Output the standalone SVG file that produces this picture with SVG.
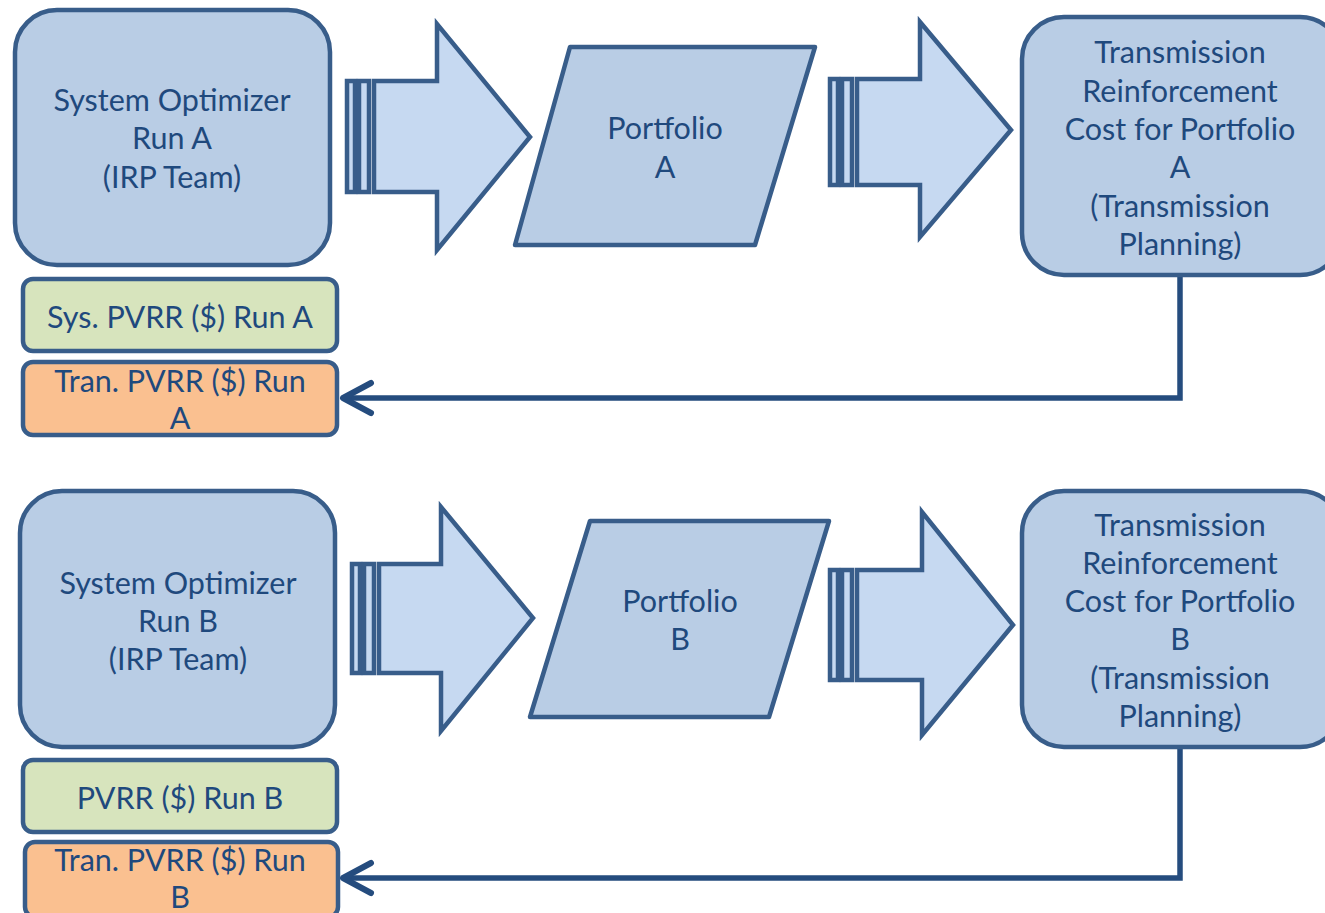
<svg xmlns="http://www.w3.org/2000/svg" width="1325" height="913" viewBox="0 0 1325 913">
<defs>
<style>
.node{fill:#b9cde5;stroke:#385d8a;stroke-width:4.5}
.green{fill:#d7e4bd;stroke:#385d8a;stroke-width:4.5}
.orange{fill:#fac090;stroke:#385d8a;stroke-width:4.5}
.arr{fill:#c6d9f1;stroke:#385d8a;stroke-width:4.5;stroke-linejoin:miter}
.conn{fill:none;stroke:#254c7e;stroke-width:5.5}
text{font-family:Lato,"Open Sans","Liberation Sans",sans-serif;font-size:30.5px;fill:#1f497d;text-anchor:middle}
</style>
<marker id="head" markerUnits="userSpaceOnUse" viewBox="-34 -20 40 40" refX="0" refY="0" markerWidth="40" markerHeight="40" orient="auto" overflow="visible">
<path d="M -28 -15 L 0 0 L -28 15" fill="none" stroke="#254c7e" stroke-width="6" stroke-linecap="round" stroke-linejoin="round"/>
</marker>
</defs>
<rect width="1325" height="913" fill="#ffffff"/>

<g id="connectors">
<path class="conn" d="M 1180 276 L 1180 398 L 343 398" marker-end="url(#head)"/>
<path class="conn" d="M 1180 748 L 1180 878 L 343 878" marker-end="url(#head)"/>
</g>

<g id="arrow1">
<rect class="arr" x="347" y="81" width="8" height="111"/>
<rect class="arr" x="359" y="81" width="10" height="111"/>
<path class="arr" d="M 374 81 L 437 81 L 437 24 L 530 137 L 437 250 L 437 192 L 374 192 Z"/>
</g>
<g id="arrow2">
<rect class="arr" x="830" y="79" width="8" height="106"/>
<rect class="arr" x="842" y="79" width="10" height="106"/>
<path class="arr" d="M 857 79 L 920 79 L 920 22 L 1011 130 L 920 237 L 920 185 L 857 185 Z"/>
</g>
<g id="arrow3">
<rect class="arr" x="352" y="564" width="8" height="109"/>
<rect class="arr" x="364" y="564" width="10" height="109"/>
<path class="arr" d="M 379 564 L 441 564 L 441 507 L 533 618 L 441 731 L 441 673 L 379 673 Z"/>
</g>
<g id="arrow4">
<rect class="arr" x="830" y="570" width="8" height="110"/>
<rect class="arr" x="842" y="570" width="10" height="110"/>
<path class="arr" d="M 857 570 L 922 570 L 922 512 L 1013 625 L 922 735 L 922 680 L 857 680 Z"/>
</g>

<g id="sysA">
<rect class="node" x="15" y="10" width="315" height="255" rx="42"/>
<text x="172" y="111">System Optimizer</text>
<text x="172" y="149">Run A</text>
<text x="172" y="188">(IRP Team)</text>
</g>
<g id="portA">
<path class="node" d="M 570 47 L 815 47 L 755 245 L 515 245 Z" stroke-linejoin="round"/>
<text x="665" y="139">Portfolio</text>
<text x="665" y="178">A</text>
</g>
<g id="transA">
<rect class="node" x="1022" y="17" width="320" height="258" rx="42"/>
<text x="1180" y="63">Transmission</text>
<text x="1180" y="102">Reinforcement</text>
<text x="1180" y="140">Cost for Portfolio</text>
<text x="1180" y="178">A</text>
<text x="1180" y="217">(Transmission</text>
<text x="1180" y="255">Planning)</text>
</g>
<g id="sysPvrrA">
<rect class="green" x="23" y="279" width="314" height="72" rx="10"/>
<text x="180" y="328">Sys. PVRR ($) Run A</text>
</g>
<g id="tranPvrrA">
<rect class="orange" x="23" y="362" width="314" height="73" rx="10"/>
<text x="180" y="392">Tran. PVRR ($) Run</text>
<text x="180" y="429">A</text>
</g>

<g id="sysB">
<rect class="node" x="20" y="491" width="315" height="256" rx="42"/>
<text x="178" y="594">System Optimizer</text>
<text x="178" y="632">Run B</text>
<text x="178" y="670">(IRP Team)</text>
</g>
<g id="portB">
<path class="node" d="M 590 521 L 829 521 L 769 717 L 530 717 Z" stroke-linejoin="round"/>
<text x="680" y="612">Portfolio</text>
<text x="680" y="650">B</text>
</g>
<g id="transB">
<rect class="node" x="1022" y="491" width="320" height="256" rx="42"/>
<text x="1180" y="536">Transmission</text>
<text x="1180" y="574">Reinforcement</text>
<text x="1180" y="612">Cost for Portfolio</text>
<text x="1180" y="650">B</text>
<text x="1180" y="689">(Transmission</text>
<text x="1180" y="727">Planning)</text>
</g>
<g id="pvrrB">
<rect class="green" x="23" y="760" width="314" height="72" rx="10"/>
<text x="180" y="809">PVRR ($) Run B</text>
</g>
<g id="tranPvrrB">
<rect class="orange" x="25" y="842" width="313" height="75" rx="10"/>
<text x="180" y="871">Tran. PVRR ($) Run</text>
<text x="180" y="908">B</text>
</g>
</svg>
